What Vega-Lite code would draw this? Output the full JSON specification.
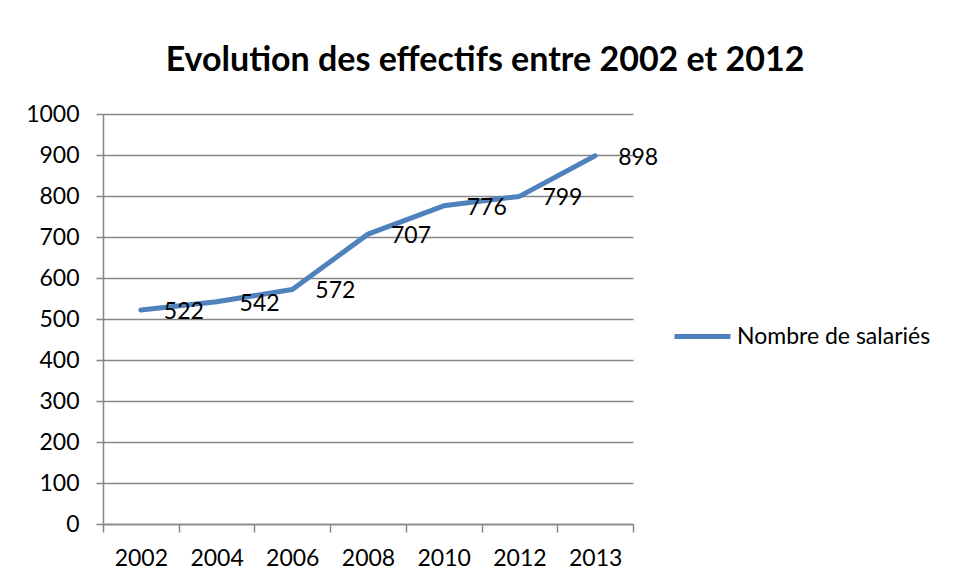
{
  "$schema": "https://vega.github.io/schema/vega-lite/v6.json",
  "autosize": {"type": "none"},
  "padding": {"left": 103, "top": 114, "right": 320, "bottom": 56},
  "width": 530,
  "height": 410,
  "background": "white",
  "title": {
    "text": "Evolution des effectifs entre 2002 et 2012",
    "font": "Lato",
    "fontWeight": "bold",
    "fontSize": 34,
    "color": "#000000",
    "anchor": "middle",
    "frame": "group",
    "dx": 117,
    "baseline": "alphabetic",
    "offset": -2
  },
  "data": {
    "values": [
      {"annee": "2002", "effectif": 522, "serie": "Nombre de salariés"},
      {"annee": "2004", "effectif": 542, "serie": "Nombre de salariés"},
      {"annee": "2006", "effectif": 572, "serie": "Nombre de salariés"},
      {"annee": "2008", "effectif": 707, "serie": "Nombre de salariés"},
      {"annee": "2010", "effectif": 776, "serie": "Nombre de salariés"},
      {"annee": "2012", "effectif": 799, "serie": "Nombre de salariés"},
      {"annee": "2013", "effectif": 898, "serie": "Nombre de salariés"}
    ]
  },
  "encoding": {
    "x": {
      "field": "annee",
      "type": "ordinal",
      "bandPosition": 0.5,
      "scale": {"type": "band", "paddingInner": 0, "paddingOuter": 0},
      "axis": {
        "title": null,
        "labelAngle": 0,
        "labelFont": "Lato",
        "labelFontSize": 23,
        "labelColor": "#000000",
        "labelPadding": 15,
        "tickBand": "extent",
        "tickSize": 8,
        "tickColor": "#868686",
        "tickWidth": 1.5,
        "domainColor": "#868686",
        "domainWidth": 1.5,
        "grid": false
      }
    },
    "y": {
      "field": "effectif",
      "type": "quantitative",
      "scale": {"domain": [0, 1000], "nice": false},
      "axis": {
        "title": null,
        "format": "d",
        "values": [0, 100, 200, 300, 400, 500, 600, 700, 800, 900, 1000],
        "labelFont": "Lato",
        "labelFontSize": 23,
        "labelColor": "#000000",
        "labelPadding": 17,
        "tickSize": 7,
        "tickColor": "#868686",
        "tickWidth": 1.5,
        "domainColor": "#868686",
        "domainWidth": 1.5,
        "grid": true,
        "gridColor": "#868686",
        "gridWidth": 1.5
      }
    }
  },
  "layer": [
    {
      "mark": {"type": "line", "strokeWidth": 5, "strokeCap": "round", "strokeJoin": "round"},
      "encoding": {
        "color": {
          "field": "serie",
          "type": "nominal",
          "scale": {"range": ["#4F81BD"]},
          "legend": {
            "title": null,
            "orient": "none",
            "legendX": 569,
            "legendY": 192,
            "symbolType": "stroke",
            "symbolSize": 3136,
            "symbolStrokeWidth": 5,
            "labelFont": "Lato",
            "labelFontSize": 23,
            "labelColor": "#000000",
            "labelOffset": 4,
            "labelLimit": 400
          }
        }
      }
    },
    {
      "mark": {"type": "text", "align": "left", "baseline": "middle", "dx": 23, "dy": 2, "font": "Lato", "fontSize": 23, "color": "#000000"},
      "encoding": {"text": {"field": "effectif", "type": "quantitative"}}
    }
  ],
  "config": {"view": {"stroke": null}}
}
